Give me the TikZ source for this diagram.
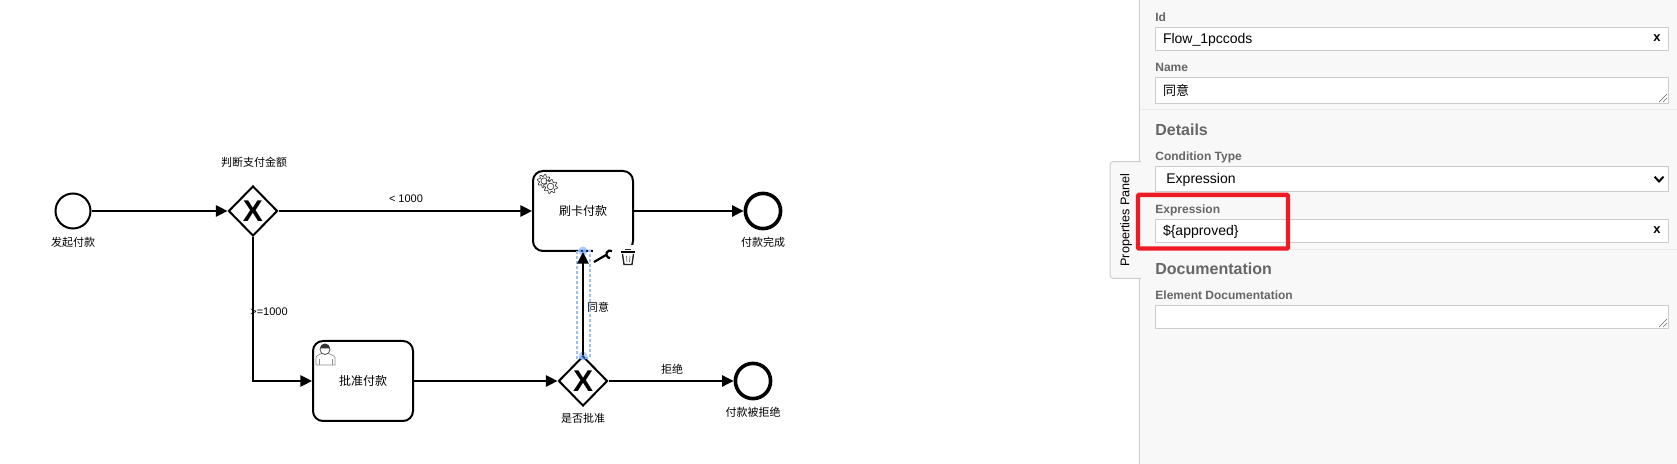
\documentclass[tikz,border=0pt]{standalone}
\usepackage{fontspec}
\setmainfont{Liberation Sans}
\newfontfamily\cjkfont{Noto Sans CJK SC}
\usetikzlibrary{arrows.meta,shapes.geometric}

\definecolor{panelgray}{HTML}{F8F8F8}
\definecolor{panelline}{HTML}{CCCCCC}
\definecolor{paneltext}{HTML}{666666}
\definecolor{markred}{HTML}{ED1C24}
\definecolor{selectblue}{HTML}{9DBDF5}
\definecolor{selectdot}{HTML}{4D90FF}

\tikzset{
    startevent/.style={draw, circle, line width=1pt, minimum size=17.5pt, inner sep=0pt},
    endevent/.style={draw, circle, line width=1.8pt, minimum size=17.6pt, inner sep=0pt},
    gateway/.style={draw, diamond, line width=1pt, minimum width=24.5pt, minimum height=25pt, inner sep=0pt,
        font=\bfseries\fontsize{15}{15}\selectfont},
    taskbox/.style={draw, rounded corners=5pt, line width=1pt, minimum width=50pt, minimum height=40pt, inner sep=0pt,
        font=\cjkfont\fontsize{6}{7}\selectfont},
    flowlabel/.style={inner sep=0pt, font=\cjkfont\fontsize{5.5}{6.6}\selectfont},
    numlabel/.style={inner sep=0pt, font=\fontsize{5.5}{6.6}\selectfont},
    flow/.style={line width=1.1pt, -{Triangle[length=5.8pt,width=5.6pt]}},
    fieldlabel/.style={anchor=west, inner sep=0pt, text=paneltext, text height=4.4pt, text depth=0pt,
        font=\bfseries\fontsize{6}{7}\selectfont},
    sectionlabel/.style={anchor=west, inner sep=0pt, text=paneltext, text height=5.8pt, text depth=0pt,
        font=\bfseries\fontsize{8}{9}\selectfont},
    inputbox/.style={draw=panelline, fill=white, line width=.5pt, minimum width=256.7pt, inner sep=0pt},
    inputtext/.style={anchor=west, inner sep=0pt, text height=5pt, text depth=0pt, font=\fontsize{7}{8}\selectfont},
    clearmark/.style={inner sep=0pt, font=\bfseries\fontsize{6.5}{8}\selectfont},
    gearline/.style={draw=black!75, line width=.35pt, fill=white},
}

% gear outline: centre x, centre y, radius
\newcommand{\gearmark}[3]{
    \draw[gearline] plot[domain=0:360, samples=65, variable=\t]
        ({#1+(#3+1.1*sin(8*\t))*cos(\t)}, {#2+(#3+1.1*sin(8*\t))*sin(\t)}) -- cycle;
    \draw[gearline] (#1,#2) circle[radius=#3*.55];
}
% resize grip of a text area
\newcommand{\gripmark}[2]{
    \draw[black!60, line width=.3pt] (#1-8,#2) -- (#1,#2-8);
    \draw[black!60, line width=.3pt] (#1-4,#2) -- (#1,#2-4);
}

\begin{document}
\begin{tikzpicture}[x=.5pt, y=-.5pt]
    \useasboundingbox (0,0) rectangle (1677,464);

    % diagram
    \node[startevent] (start) at (73, 211) {};
    \node[gateway] (amount) at (253, 211) {X};
    \node[taskbox] (pay) at (583, 211) {刷卡付款};
    \node[endevent] (done) at (763, 211) {};
    \node[taskbox] (approve) at (363, 381) {批准付款};
    \node[gateway] (check) at (583, 381) {X};
    \node[endevent] (rejected) at (753, 381) {};

    \node[flowlabel] (startlabel) at (73, 242) {发起付款};
    \node[flowlabel] (amountlabel) at (254, 162) {判断支付金额};
    \node[flowlabel] (donelabel) at (763, 242) {付款完成};
    \node[flowlabel] (checklabel) at (583, 418) {是否批准};
    \node[flowlabel] (rejectedlabel) at (753, 412) {付款被拒绝};
    \node[numlabel] (lesslabel) at (406, 199) {< 1000};
    \node[numlabel] (morelabel) at (269, 312) {>=1000};
    \node[flowlabel] (agreelabel) at (598, 307) {同意};
    \node[flowlabel] (refuselabel) at (672, 369) {拒绝};

    \draw[flow] (start) -- (amount);
    \draw[flow] (amount) -- (pay);
    \draw[flow] (pay) -- (done);
    \draw[flow] (amount) |- (approve);
    \draw[flow] (approve) -- (check);
    \draw[flow] (check) -- (rejected);

    % task markers
    \gearmark{544}{181}{5.6}
    \gearmark{550.5}{186.5}{6}
    \draw[black!45, line width=.35pt, fill=white] (316,365) -- (316,358) .. controls (316,355) and (320,355) .. (322,353)
        -- (328,353) .. controls (330,355) and (335,355) .. (335,358) -- (335,365) -- cycle;
    \draw[black!45, line width=.3pt] (319,365) -- (319,359) (332,365) -- (332,359);
    \draw[black!70, line width=.4pt, fill=white] (325,349.5) circle[radius=5];
    \fill[black!80] (320,348.5) arc[start angle=180, end angle=360, radius=5] -- cycle;

    % context pad and selection of the flow
    \fill[white] (593,245) rectangle (640,268);
    \draw[selectblue, line width=1pt, dash pattern=on 1.5pt off 1pt] (577,251) rectangle (589.5,358);
    \fill[selectdot, opacity=.45] (583,251) circle[radius=4.5];
    \fill[selectdot, opacity=.45] (583,356) circle[radius=4.5];
    \draw[flow] (check) -- (pay);
    \draw[black, line width=1.1pt] (594,262) -- (606,255);
    \draw[black, line width=1.1pt] (612,251) arc[start angle=300, end angle=90, radius=3.8];
    \draw[black!85, line width=.7pt] (622.5,254) -- (624,264.5) -- (632,264.5) -- (633.5,254);
    \draw[black, line width=1pt] (620.5,252.5) -- (635,252.5);
    \draw[black!85, line width=.6pt] (625,249.5) -- (631,249.5);
    \draw[black!60, line width=.35pt] (626.5,256) -- (627,262) (630,256) -- (629.5,262);

    % properties panel
    \fill[panelgray] (1139.5,0) rectangle (1677,464);
    \draw[panelline, line width=.9pt] (1139.5,0) -- (1139.5,162) (1139.5,278) -- (1139.5,464);
    \node[fill=panelgray, inner sep=0pt, minimum width=15pt, minimum height=58pt] (tab) at (1125.5, 220) {};
    \draw[panelline, line width=.5pt, rounded corners=1.5pt] (tab.north east) -- (tab.north west) -- (tab.south west) -- (tab.south east);
    \node[rotate=90, inner sep=0pt, font=\fontsize{6.3}{7}\selectfont] (tabtext) at (1126, 220) {Properties Panel};

    \node[fieldlabel] (idlabel) at (1155, 16.7) {Id};
    \node[inputbox, minimum height=11.5pt] (idbox) at (1411.9, 39.2) {};
    \node[inputtext] (idtext) at (1162.6, 39) {Flow\_1pccods};
    \node[clearmark] (idclear) at (1657, 38.5) {x};

    \node[fieldlabel] (namelabel) at (1155, 66.7) {Name};
    \node[inputbox, minimum height=12.8pt] (namebox) at (1411.9, 90.5) {};
    \node[inputtext, font=\cjkfont\fontsize{6.5}{8}\selectfont] (nametext) at (1162.6, 90.5) {同意};
    \gripmark{1667}{102}

    \draw[black!8, line width=.5pt] (1140,110) -- (1677,110);

    \node[sectionlabel] (details) at (1155, 129.3) {Details};
    \node[fieldlabel] (typelabel) at (1155, 155.7) {Condition Type};
    \node[inputbox, minimum height=12.5pt] (typebox) at (1411.9, 179.2) {};
    \node[inputtext] (typetext) at (1166, 179) {Expression};
    \draw[black, line width=1pt] (1654.6,176.7) -- (1659,181.5) -- (1663.5,176.7);

    \node[fieldlabel] (exprlabel) at (1155, 208.7) {Expression};
    \node[inputbox, minimum height=11.5pt] (exprbox) at (1411.9, 230.8) {};
    \node[inputtext] (exprtext) at (1162.6, 231) {\$\{approved\}};
    \node[clearmark] (exprclear) at (1657, 230.5) {x};

    \draw[black!8, line width=.5pt] (1140,249.5) -- (1677,249.5);

    \node[sectionlabel] (docs) at (1155, 268.3) {Documentation};
    \node[fieldlabel] (doclabel) at (1155, 294.7) {Element Documentation};
    \node[inputbox, minimum height=11.3pt] (docbox) at (1411.9, 317) {};
    \gripmark{1667}{327}

    \node[draw=markred, line width=2.2pt, rounded corners=.5pt, minimum width=75pt, minimum height=26.8pt, inner sep=0pt] (mark) at (1213, 221.7) {};
\end{tikzpicture}
\end{document}
